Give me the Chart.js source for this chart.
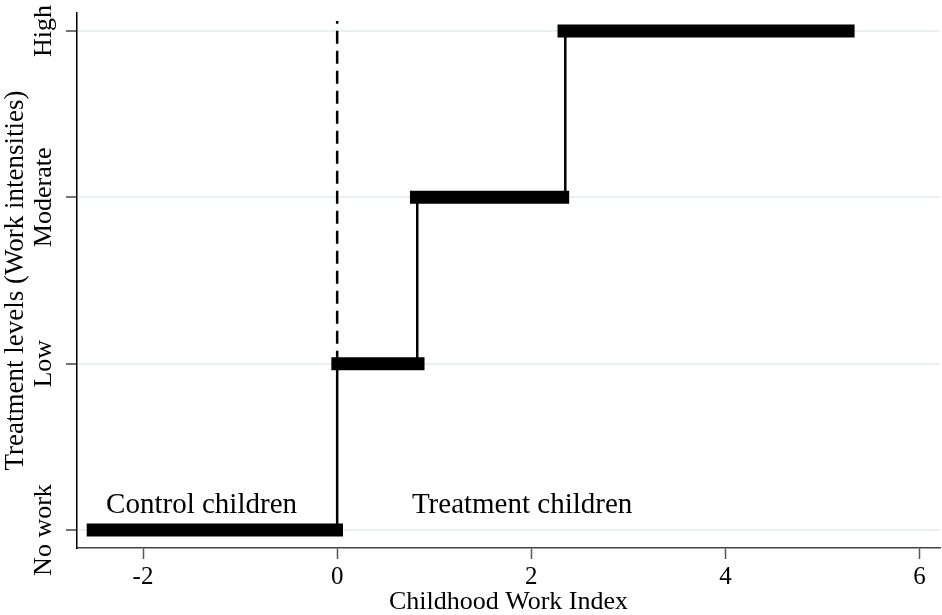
<!DOCTYPE html>
<html>
<head>
<meta charset="utf-8">
<title>Childhood Work Index</title>
<script src="https://cdn.jsdelivr.net/npm/chart.js@4.4.1/dist/chart.umd.min.js"></script>
<style>
  body { margin: 0; background: #fff; }
  canvas { display: block; }
</style>
</head>
<body>
<canvas id="chart" width="942" height="615"></canvas>
<script>
// treatment levels on the y axis
const levelLabels = ['No work', 'Low', 'Moderate', 'High'];
const levelValues = [0, 1, 2, 3];
const xTicks = [-2, 0, 2, 4, 6];

// horizontal step for each level (childhood work index range)
const stepStart = [-2.58, -0.06, 0.75, 2.27];
const stepEnd = [0.06, 0.90, 2.39, 5.33];
// where the level jumps up
const jumpX = [0, 0.825, 2.35];
// dashed cutoff at zero
const cutoffX = 0;
const cutoffTop = 3.06;

const groupLabels = ['Control children', 'Treatment children'];

const serif = "'Liberation Serif', 'Times New Roman', serif";

let datasets = [];

for (let i = 0; i < levelValues.length; i++) {
    datasets.push({
        data: [{ x: stepStart[i], y: levelValues[i] }, { x: stepEnd[i], y: levelValues[i] }],
        borderColor: '#000',
        borderWidth: 13,
        borderCapStyle: 'butt',
        showLine: true,
        pointRadius: 0
    });
}

for (let i = 0; i < jumpX.length; i++) {
    datasets.push({
        data: [{ x: jumpX[i], y: levelValues[i] }, { x: jumpX[i], y: levelValues[i + 1] }],
        borderColor: '#000',
        borderWidth: 2.5,
        showLine: true,
        pointRadius: 0
    });
}

datasets.push({
    data: [{ x: cutoffX, y: levelValues[1] }, { x: cutoffX, y: cutoffTop }],
    borderColor: '#000',
    borderWidth: 2.5,
    borderDash: [13, 7],
    showLine: true,
    pointRadius: 0
});

// rotated y tick labels and the two group labels
const textPlugin = {
    id: 'textPlugin',
    afterDraw: function(chart) {
        const ctx = chart.ctx;
        const xs = chart.scales.x;
        const ys = chart.scales.y;
        ctx.save();
        ctx.fillStyle = '#000';
        ctx.font = '26px ' + serif;
        ctx.textAlign = 'center';
        ctx.textBaseline = 'middle';
        for (let i = 0; i < levelValues.length; i++) {
            ctx.save();
            ctx.translate(44, ys.getPixelForValue(levelValues[i]));
            ctx.rotate(-Math.PI / 2);
            ctx.fillText(levelLabels[i], 0, 0);
            ctx.restore();
        }
        ctx.font = '29px ' + serif;
        ctx.textAlign = 'left';
        ctx.textBaseline = 'alphabetic';
        ctx.fillText(groupLabels[0], xs.getPixelForValue(-2.38), ys.getPixelForValue(0.1));
        ctx.fillText(groupLabels[1], xs.getPixelForValue(0.77), ys.getPixelForValue(0.1));
        ctx.restore();
    }
};

new Chart(document.getElementById('chart'), {
    type: 'scatter',
    data: { datasets: datasets },
    plugins: [textPlugin],
    options: {
        responsive: false,
        animation: false,
        layout: { padding: { top: 13, right: 2, left: 0, bottom: 0 } },
        plugins: {
            legend: { display: false },
            tooltip: { enabled: false }
        },
        scales: {
            x: {
                type: 'linear',
                min: -2.68,
                max: 6.21,
                afterBuildTicks: function(scale) {
                    scale.ticks = xTicks.map(v => ({ value: v }));
                },
                afterFit: function(scale) {
                    scale.height = 67;
                    scale.paddingLeft = 0;
                    scale.paddingRight = 0;
                },
                grid: {
                    drawOnChartArea: false,
                    tickLength: 11,
                    tickColor: '#555',
                    tickWidth: 1.5
                },
                border: { color: '#444', width: 1.5 },
                ticks: {
                    color: '#000',
                    padding: 3,
                    maxRotation: 0,
                    font: { family: serif, size: 25 }
                },
                title: {
                    display: true,
                    text: 'Childhood Work Index',
                    color: '#000',
                    padding: { top: 0, bottom: 0 },
                    font: { family: serif, size: 26, lineHeight: 1.0 }
                }
            },
            y: {
                type: 'linear',
                min: -0.108,
                max: 3.108,
                afterBuildTicks: function(scale) {
                    scale.ticks = levelValues.map(v => ({ value: v }));
                },
                afterFit: function(scale) {
                    scale.width = 77;
                    scale.paddingTop = 0;
                    scale.paddingBottom = 0;
                },
                grid: {
                    color: '#e9f0f2',
                    lineWidth: 2,
                    tickLength: 11,
                    tickColor: '#444',
                    tickWidth: 1.5
                },
                border: { color: '#000', width: 1.5 },
                ticks: { display: false },
                title: {
                    display: true,
                    text: 'Treatment levels (Work intensities)',
                    color: '#000',
                    padding: 0,
                    font: { family: serif, size: 27 }
                }
            }
        }
    }
});
</script>
</body>
</html>
